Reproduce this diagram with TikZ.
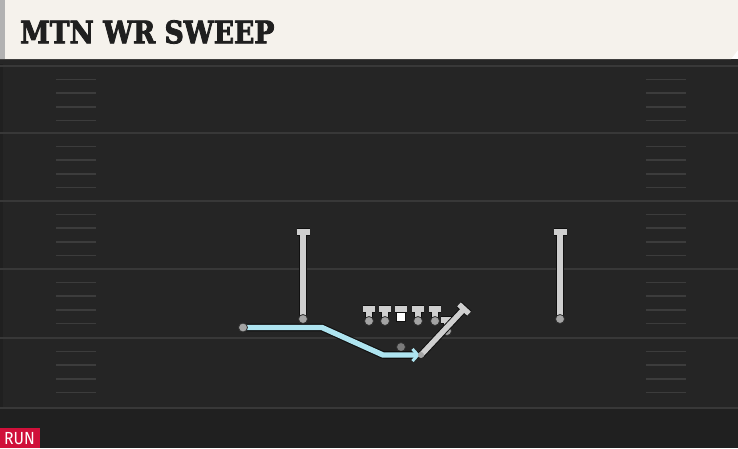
\documentclass[tikz,border=0pt]{standalone}
\usepackage{fontspec}
\setmainfont{DejaVu Serif}
\newfontfamily\titlefont{DejaVu Serif}[UprightFont={* Bold},FakeBold=2.6,FakeStretch=0.86]
\newfontfamily\runfont{Fira Sans}[FakeStretch=0.9]
\usetikzlibrary{arrows.meta,calc}
\definecolor{hdr}{HTML}{F5F2EC}
\definecolor{fieldc}{HTML}{252525}
\definecolor{fieldlow}{HTML}{202020}
\definecolor{ydl}{HTML}{383838}
\definecolor{hashc}{HTML}{3C3C3C}
\definecolor{plr}{HTML}{CFCFCF}
\definecolor{dotc}{HTML}{A4A4A4}
\definecolor{outl}{HTML}{101010}
\definecolor{routec}{HTML}{AEE4F0}
\definecolor{runred}{HTML}{D0103A}
\tikzset{
  yardline/.style={draw=ydl,line width=1.6pt},
  hashline/.style={draw=hashc,line width=1.5pt},
  outer/.style={draw=outl,line width=7.4pt},
  inner/.style={draw=plr,line width=5.4pt},
  dotp/.style={fill=dotc,draw=outl!80!dotc,line width=0.8pt},
}
\newcommand{\plyr}[4]{% x, ytop, ybottom, bar half width
  \draw[outer] (#1,#2) -- (#1,#3);
  \draw[outer] (#1-#4,#2) -- (#1+#4,#2);
  \draw[inner] (#1,#2) -- (#1,#3);
  \draw[inner] (#1-#4,#2) -- (#1+#4,#2);
  \filldraw[dotp] (#1,#3) circle (4.5);
}
\begin{document}
\begin{tikzpicture}[x=1pt,y=-1pt]
\useasboundingbox (0,0) rectangle (738,448);
% field
\fill[fieldc] (0,59) rectangle (738,448);
\fill[fieldlow] (0,408) rectangle (738,448);
\fill[black!85] (0,59) rectangle (738,64);
\fill[fieldlow] (0,64) rectangle (3,448);
% yard lines
\foreach \yy in {66,133,201,269,338,408}{
  \draw[yardline] (0,\yy) -- (738,\yy);
}
% hash marks
\foreach \yy in {66,133,201,269,338}{
  \foreach \k in {1,2,3,4}{
    \draw[hashline] (56,\yy+13.6*\k) -- (96,\yy+13.6*\k);
    \draw[hashline] (646,\yy+13.6*\k) -- (686,\yy+13.6*\k);
  }
}
% header
\fill[hdr] (0,0) -- (738,0) -- (738,50) -- (731,59) -- (0,59) -- cycle;
\fill[black!30] (0,0) rectangle (5,59);
\node[anchor=west,inner sep=0pt,text=black!88] (title) at (20,32)
  {\titlefont\fontsize{31}{31}\selectfont MTN WR SWEEP};
% RUN label
\fill[runred] (0,428) rectangle (40,448);
\node[text=white,inner sep=0pt] (run) at (19.5,438.5) {\runfont\fontsize{17.5}{17.5}\selectfont RUN};
% receivers
\plyr{303}{232}{319}{6.5}
\plyr{560}{232}{319}{6.5}
% offensive line
\plyr{369}{309}{321}{6}
\plyr{385}{309}{321}{6}
\plyr{418}{309}{321}{6}
\plyr{435}{309}{321}{6}
\draw[outer] (401,309) -- (401,315);
\draw[outer] (395,309) -- (407,309);
\draw[inner] (401,309) -- (401,315);
\draw[inner] (395,309) -- (407,309);
\node[fill=white,draw=outl,line width=0.8pt,minimum size=9pt,inner sep=0pt] (center) at (401,317) {};
% tight end / extra lineman
\plyr{447}{320}{331}{6}
% QB
\filldraw[dotp,fill=dotc!75!black] (401,347) circle (4.5);
\coordinate (qb) at (401,347);
% sweep route
\coordinate (wr) at (243,327.5);
\coordinate (r1) at (322,327.5);
\coordinate (r2) at (383,355);
\coordinate (r3) at (421,355);
\draw[draw=outl,line width=7.6pt,line join=round] (wr) -- (r1) -- (r2) -- ([xshift=-3pt]r3);
\draw[draw=routec,line width=5.4pt,line join=round,-{Straight Barb[length=5.5pt,width=12pt,line width=3pt]}] (wr) -- (r1) -- (r2) -- ([xshift=-1pt]r3);
\filldraw[dotp] (wr) circle (4.5);
% diagonal block
\coordinate (dend) at (464,309);
\draw[outer] (r3) -- (dend);
\draw[outer] ($(dend)+(-5,-4.6)$) -- ($(dend)+(5,4.6)$);
\draw[inner] (r3) -- (dend);
\draw[inner] ($(dend)+(-5,-4.6)$) -- ($(dend)+(5,4.6)$);
\fill[dotc] (r3) circle (3);
\end{tikzpicture}
\end{document}
